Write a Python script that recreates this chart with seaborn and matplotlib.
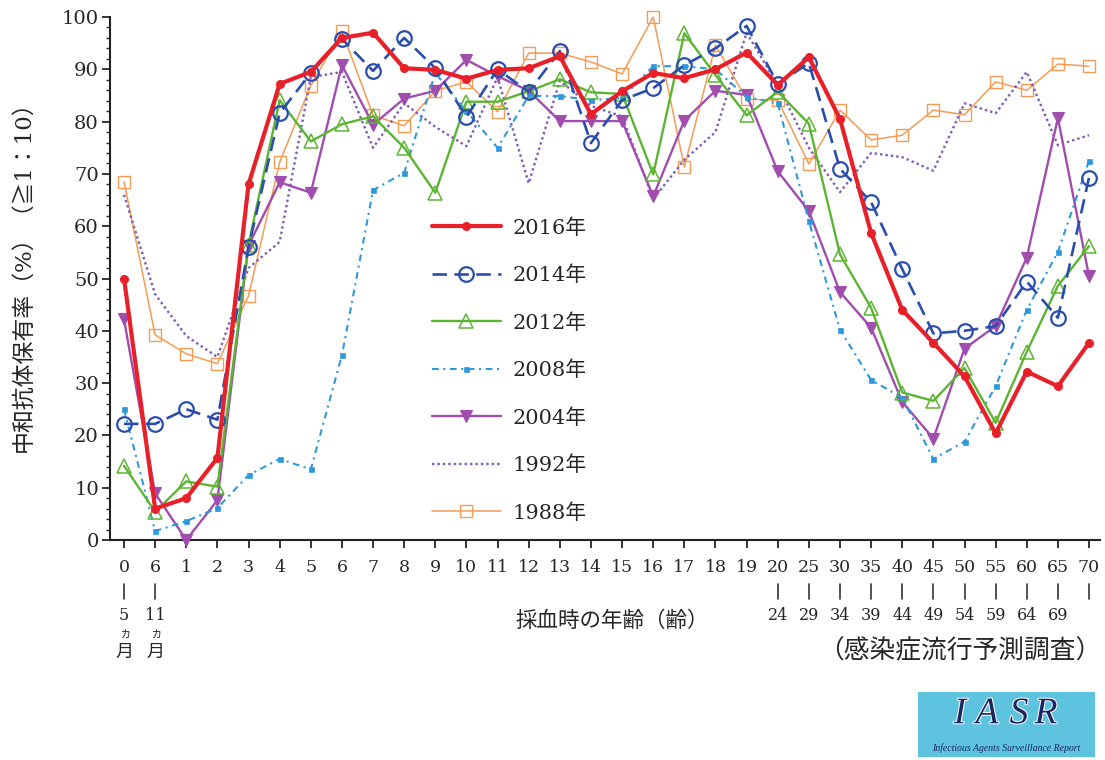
import numpy as np
import pandas as pd
import matplotlib
matplotlib.use("Agg")
import matplotlib.pyplot as plt
import matplotlib.patheffects as pe
from matplotlib.patches import Rectangle
from matplotlib.transforms import blended_transform_factory
import seaborn as sns

# Age groups on the x axis (0-5 months, 6-11 months, 1 ... 19 years, then 5-year bands)
age_labels = ["0", "6", "1", "2", "3", "4", "5", "6", "7", "8", "9", "10",
              "11", "12", "13", "14", "15", "16", "17", "18", "19",
              "20", "25", "30", "35", "40", "45", "50", "55", "60", "65", "70"]
# Upper bound of each age band (blank where the band is a single year / open-ended)
band_upper = ["5", "11", "", "", "", "", "", "", "", "", "", "", "", "", "", "",
              "", "", "", "", "",
              "24", "29", "34", "39", "44", "49", "54", "59", "64", "69", ""]
has_bar = [True, True] + [False] * 19 + [True] * 11
month_bands = [0, 1]

years = ["2016", "2014", "2012", "2008", "2004", "1992", "1988"]

# Seroprevalence of neutralizing antibody (%), titre >= 1:10
s2016 = [50, 6, 8, 15.7, 68, 87.2, 89.5, 96, 97, 90.2, 89.9, 88.2, 89.9, 90.2,
         92.5, 81.4, 85.8, 89.3, 88.3, 90, 93.2, 87, 92.3, 80.5, 58.7, 44,
         37.7, 31.3, 20.4, 32.2, 29.4, 37.7]
s2014 = [22.2, 22.2, 25, 23, 56, 81.6, 89.3, 95.8, 89.7, 96, 90.2, 80.9, 90,
         85.7, 93.5, 75.9, 84.1, 86.4, 90.8, 94, 98.3, 87.2, 91.2, 71, 64.6,
         51.8, 39.5, 40, 40.9, 49.4, 42.5, 69.3]
s2012 = [14.2, 5.4, 11.2, 10.2, 56.5, 84.1, 76.2, 79.5, 81, 75, 66.4, 83.8,
         83.8, 85.8, 88.1, 85.6, 85.3, 69.9, 96.9, 88.9, 81.2, 85.7, 79.6,
         54.6, 44.4, 28.2, 26.6, 32.9, 22.4, 36, 48.6, 56.2]
s2008 = [25, 1.7, 3.6, 6.1, 12.4, 15.5, 13.5, 35.3, 66.9, 70.2, 89.3, 82, 75,
         84.9, 84.9, 84.1, 84.5, 90.6, 90.6, 90, 84.7, 83.5, 61, 40.2, 30.6,
         27.2, 15.5, 18.8, 29.4, 44, 55.1, 72.5]
s2004 = [42.2, 8.9, 0, 7.6, 56.3, 68.4, 66.4, 90.8, 79.4, 84.4, 85.9, 91.8,
         88.7, 85.9, 80.1, 80.1, 80.1, 65.7, 80.2, 85.9, 85.1, 70.5, 62.9,
         47.4, 40.6, 26.4, 19.4, 36.6, 40.9, 54, 80.7, 50.4]
s1992 = [66, 47, 39, 35, 52, 57, 88.5, 89.5, 75, 83.5, 79, 75.3, 88.5, 68.2,
         87.8, 83, 81, 65.2, 72.7, 78, 97, 87, 75, 66.5, 74, 73.2, 70.6, 83.5,
         81.6, 89.5, 75.5, 77.4]
s1988 = [68.5, 39.2, 35.6, 33.7, 46.7, 72.2, 86.9, 97.3, 81.2, 79.2, 85.9,
         87.6, 81.9, 93.1, 93.1, 91.4, 89.1, 100, 71.3, 94.6, 84.3, 84.1,
         71.9, 82.2, 76.5, 77.4, 82.2, 81.3, 87.6, 86, 91, 90.6]

values = {"2016": s2016, "2014": s2014, "2012": s2012, "2008": s2008,
          "2004": s2004, "1992": s1992, "1988": s1988}

df = pd.DataFrame({"pos": np.arange(len(age_labels)), **values})

styles = {
    "2016": dict(color="#E8202A", lw=3.0, ls="-", marker="o", ms=5.5,
                 mfc="#E8202A", mec="#E8202A", mew=1.0, z=9),
    "2014": dict(color="#2B4EAD", lw=1.9, ls=(0, (5.5, 2.8)), marker="o", ms=10.5,
                 mfc="none", mec="#2B4EAD", mew=1.6, z=8),
    "2012": dict(color="#5CB532", lw=1.7, ls="-", marker="^", ms=10.5,
                 mfc="none", mec="#5CB532", mew=1.1, z=7),
    "2008": dict(color="#2F98DA", lw=1.5, ls=(0, (3.2, 2.2, 1, 2.2)), marker="s", ms=3.6,
                 mfc="#2F98DA", mec="#2F98DA", mew=0.5, z=6),
    "2004": dict(color="#A04DAE", lw=1.7, ls="-", marker="v", ms=9,
                 mfc="#A04DAE", mec="#A04DAE", mew=0.8, z=5),
    "1992": dict(color="#7C5AB8", lw=1.7, ls=(0, (1, 1.3)), marker=None, ms=0,
                 mfc="none", mec="#7C5AB8", mew=0, z=4),
    "1988": dict(color="#F59B55", lw=1.1, ls="-", marker="s", ms=9,
                 mfc="none", mec="#F59B55", mew=1.0, z=3),
}

sns.set_style("ticks")
serif_jp = ["DejaVu Serif", "Noto Sans CJK JP"]
plt.rcParams["font.family"] = serif_jp

W, H = 1105, 760
fig = plt.figure(figsize=(W / 100, H / 100), dpi=100)
ax_left, ax_right, ax_top, ax_bottom = 110, 1100, 17, 540
ax = fig.add_axes([ax_left / W, 1 - ax_bottom / H,
                   (ax_right - ax_left) / W, (ax_bottom - ax_top) / H])

handles = {}
for yr in reversed(years):
    st = styles[yr]
    sns.lineplot(data=df, x="pos", y=yr, ax=ax, color=st["color"],
                 linewidth=st["lw"], linestyle=st["ls"], marker=st["marker"],
                 markersize=st["ms"], markerfacecolor=st["mfc"],
                 markeredgecolor=st["mec"], markeredgewidth=st["mew"],
                 zorder=st["z"], legend=False)
    line = ax.lines[-1]
    line.set_clip_on(False)
    handles[yr] = line

px_per_unit = 31.13
x0 = (ax_left - 124) / px_per_unit
ax.set_xlim(x0, x0 + (ax_right - ax_left) / px_per_unit)
ax.set_ylim(0, 100)
ax.set_xlabel("")
ax.set_ylabel("")

ax.set_xticks(np.arange(len(age_labels)))
ax.set_xticklabels(age_labels, fontsize=12.5)
ax.set_yticks(np.arange(0, 101, 10))
ax.set_yticks(np.arange(0, 101, 2), minor=True)
ax.tick_params(axis="y", which="major", length=6, width=1.3, pad=2, labelsize=14)
ax.tick_params(axis="y", which="minor", length=3, width=1.0)
ax.tick_params(axis="x", which="major", length=6, width=1.3, pad=8)
for lab in ax.get_yticklabels() + ax.get_xticklabels():
    lab.set_family(serif_jp)

sns.despine(ax=ax)
for sp in ("left", "bottom"):
    ax.spines[sp].set_linewidth(1.5)
    ax.spines[sp].set_color("#222222")

# Age-band brackets below the tick labels
tr = blended_transform_factory(ax.transData, fig.transFigure)
def fy(py):
    return 1 - py / H

for i, lab in enumerate(age_labels):
    if has_bar[i]:
        ax.plot([i, i], [fy(584), fy(599)], transform=tr, color="#333333",
                lw=1.2, clip_on=False)
    if band_upper[i]:
        ax.text(i, fy(615), band_upper[i], transform=tr, ha="center", va="center",
                fontsize=11.5)
for i in month_bands:
    ax.text(i + 0.03, fy(633), "ヵ", transform=tr, ha="center", va="center",
            fontsize=8.5, family=["Noto Sans CJK JP"])
    ax.text(i, fy(652), "月", transform=tr, ha="center", va="center",
            fontsize=13, family=["Noto Sans CJK JP"])

fig.text(612 / W, fy(621), "採血時の年齢（齢）", ha="center", va="center",
         fontsize=15.5, family=["Noto Sans CJK JP"])
fig.text(1101 / W, fy(651), "（感染症流行予測調査）", ha="right", va="center",
         fontsize=18.5, family=["Noto Sans CJK JP"])
fig.text(24 / W, fy(271), "中和抗体保有率（%）（≧1：10）", ha="center", va="center",
         rotation=90, fontsize=16.5, family=serif_jp)

leg = fig.legend([handles[y] for y in years], [f"{y}年" for y in years],
                 loc="upper left", bbox_to_anchor=(432 / W, fy(218)),
                 frameon=False, prop={"family": serif_jp, "size": 15},
                 handlelength=3.3, handletextpad=0.55, labelspacing=1.34,
                 borderpad=0, borderaxespad=0)

# Publication logo
fig.patches.append(Rectangle((918 / W, fy(757)), 177 / W, 65 / H,
                             transform=fig.transFigure, facecolor="#5EC3DF",
                             edgecolor="none"))
for ch, cx in zip("IASR", [960, 987, 1019, 1046]):
    fig.text(cx / W, fy(714), ch, ha="center", va="center", fontsize=27,
             style="italic", family=["Liberation Serif"], color="#1C2563",
             path_effects=[pe.withStroke(linewidth=1.5, foreground="white")])
fig.text(1006 / W, fy(748), "Infectious Agents Surveillance Report", ha="center",
         va="center", fontsize=7, style="italic", family=["Liberation Serif"],
         color="#1C2563")

fig.savefig("out.png", dpi=100)
